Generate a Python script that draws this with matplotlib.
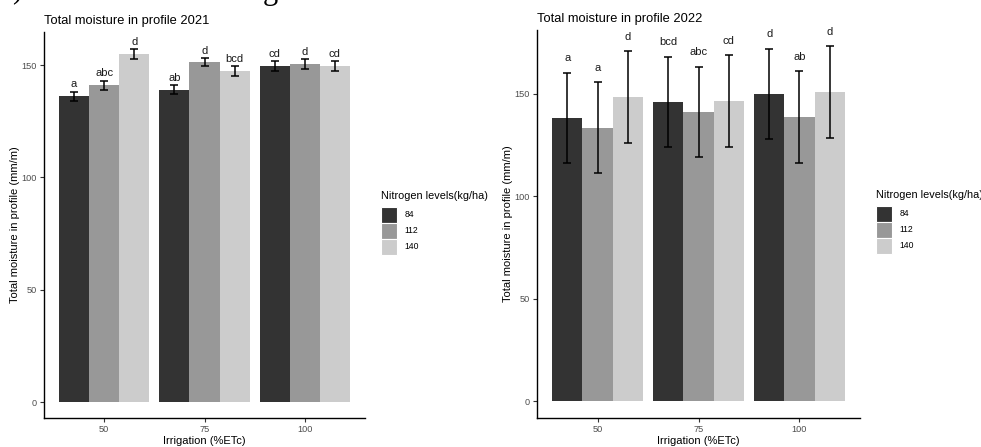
import matplotlib
matplotlib.use("Agg")
import matplotlib.pyplot as plt
from matplotlib.patches import Patch
import numpy as np

plt.rcParams['font.family'] = ['Liberation Sans', 'DejaVu Sans']

irrigation = ["50", "75", "100"]
nitrogen = ["84", "112", "140"]
colors = ["#333333", "#989898", "#CCCCCC"]

# 2021 means / se, rows = nitrogen level, cols = irrigation
mean_2021 = [[136.2, 138.9, 149.5],
             [141.1, 151.3, 150.4],
             [154.9, 147.3, 149.7]]
err_2021 = [[2.0, 2.0, 2.1],
            [2.0, 1.9, 2.1],
            [2.1, 2.1, 2.2]]
lab_2021 = [["a", "ab", "cd"],
            ["abc", "d", "d"],
            ["d", "bcd", "cd"]]

mean_2022 = [[138.3, 146.1, 150.0],
             [133.5, 141.2, 138.7],
             [148.5, 146.6, 150.9]]
err_2022 = [[22.1, 22.1, 22.1],
            [22.2, 22.1, 22.4],
            [22.5, 22.3, 22.4]]
lab_2022 = [["a", "bcd", "d"],
            ["a", "abc", "ab"],
            ["d", "cd", "d"]]

W, H = 981, 447
fig = plt.figure(figsize=(W / 100, H / 100), dpi=100)


def px_axes(x0, y0, x1, y1):
    return fig.add_axes([x0 / W, 1 - y1 / H, (x1 - x0) / W, (y1 - y0) / H])


def panel(ax, means, errs, labels, ylim, title, lab_off, leg_xy):
    x = np.arange(1, len(irrigation) + 1)
    bw = 0.3
    for i in range(len(nitrogen)):
        xs = x + (i - 1) * bw
        ax.bar(xs, means[i], width=bw, color=colors[i], edgecolor='none', zorder=2)
        ax.errorbar(xs, means[i], yerr=errs[i], fmt='none', ecolor='black',
                    elinewidth=1.1, capsize=3, capthick=1.1, zorder=3)
        for xx, m, e, t in zip(xs, means[i], errs[i], labels[i]):
            ax.annotate(t, (xx, m + e), xytext=(0, lab_off), textcoords='offset points',
                        ha='center', va='bottom', fontsize=8, color='#1A1A1A')
    ax.set_xlim(0.4, 3.6)
    ax.set_ylim(*ylim)
    ax.set_xticks(x)
    ax.set_xticklabels(irrigation)
    ax.set_yticks([0, 50, 100, 150])
    for s in ['top', 'right']:
        ax.spines[s].set_visible(False)
    for s in ['left', 'bottom']:
        ax.spines[s].set_linewidth(1.0)
        ax.spines[s].set_color('black')
    ax.tick_params(axis='both', direction='out', length=2.8, width=0.8, color='#333333',
                   labelsize=6.6, labelcolor='#4D4D4D', pad=2.2)
    ax.set_xlabel("Irrigation (%ETc)", fontsize=8, labelpad=1.5)
    ax.set_ylabel("Total moisture in profile (mm/m)", fontsize=8, labelpad=1.5)
    ax.set_title(title, fontsize=9.3, loc='left', pad=6)
    handles = [Patch(facecolor=c, edgecolor='white', linewidth=0.8) for c in colors]
    leg = fig.legend(handles, nitrogen, title="Nitrogen levels(kg/ha)",
                     loc='upper left', bbox_to_anchor=(leg_xy[0] / W, 1 - leg_xy[1] / H),
                     frameon=False, fontsize=6.2, title_fontsize=7.8,
                     handlelength=1.9, handleheight=2.5, labelspacing=0.0,
                     handletextpad=0.8, borderpad=0, borderaxespad=0)
    leg._legend_box.align = "left"
    leg._legend_box.sep = 4


ax1 = px_axes(44, 32, 365, 418)
panel(ax1, mean_2021, err_2021, lab_2021, (-7.1, 164.7),
      "Total moisture in profile 2021", 1.6, (381, 191))

ax2 = px_axes(537, 30, 860, 418)
panel(ax2, mean_2022, err_2022, lab_2022, (-8.3, 181.2),
      "Total moisture in profile 2022", 6.6, (876, 190))

# cropped caption fragments at the very top of the image
fig.text(12 / W, 1 + 3 / H, ")", fontsize=22, family='Liberation Serif', va='baseline', ha='left')
fig.text(263 / W, 1 + 1 / H, "g", fontsize=22, family='Liberation Serif', va='baseline', ha='left')

fig.savefig("out.png", dpi=100)
